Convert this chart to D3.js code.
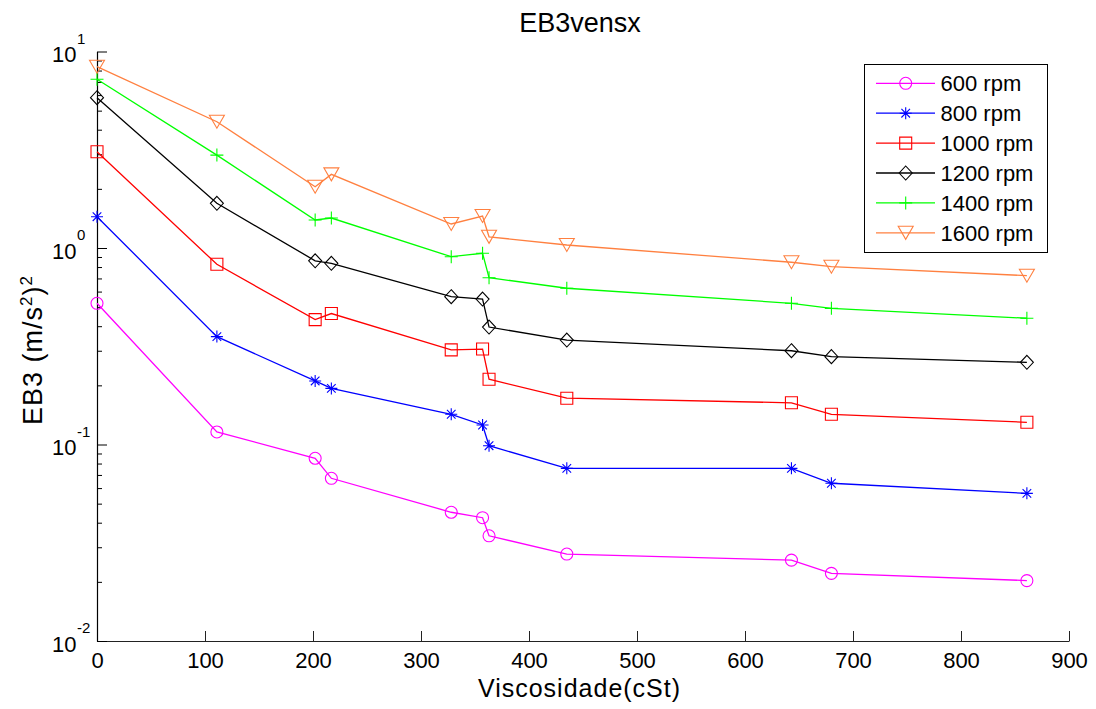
<!DOCTYPE html>
<html>
<head>
<meta charset="utf-8">
<script src="https://cdn.jsdelivr.net/npm/d3@7"></script>
<style>
  html, body { margin: 0; padding: 0; background: #fff; }
  svg { display: block; font-family: "Liberation Sans", Arial, Helvetica, sans-serif; }
</style>
</head>
<body>
<svg id="chart" width="1096" height="709"></svg>
<script>
// ---- data ----
const viscosity = [0, 111, 202, 217, 328, 357, 363, 435, 643, 680, 861];
const rpm600  = [0.523, 0.1158, 0.0851, 0.0673, 0.0452, 0.0424, 0.0343, 0.0277, 0.0258, 0.0221, 0.0203];
const rpm800  = [1.443, 0.354, 0.2106, 0.193, 0.1425, 0.1257, 0.0986, 0.0756, 0.0756, 0.0635, 0.0564];
const rpm1000 = [3.09, 0.826, 0.432, 0.464, 0.303, 0.306, 0.215, 0.172, 0.163, 0.1425, 0.1297];
const rpm1200 = [5.82, 1.689, 0.861, 0.836, 0.565, 0.550, 0.396, 0.340, 0.300, 0.280, 0.262];
const rpm1400 = [7.22, 2.97, 1.388, 1.421, 0.903, 0.940, 0.706, 0.624, 0.523, 0.493, 0.439];
const rpm1600 = [8.37, 4.39, 2.05, 2.37, 1.325, 1.455, 1.14, 1.036, 0.846, 0.803, 0.723];
const seriesNames = ["600 rpm", "800 rpm", "1000 rpm", "1200 rpm", "1400 rpm", "1600 rpm"];
const seriesValues = [rpm600, rpm800, rpm1000, rpm1200, rpm1400, rpm1600];
const xTicks = [0, 100, 200, 300, 400, 500, 600, 700, 800, 900];
const yDecades = [-2, -1, 0, 1];
const titleText = "EB3vensx";
const xLabelText = "Viscosidade(cSt)";

// ---- styles ----
const colors = ["#ff00ff", "#0000ff", "#ff0000", "#000000", "#00ff00", "#ff8040"];
const markers = ["circle", "asterisk", "square", "diamond", "plus", "triangleDown"];

const svg = d3.select("#chart");
const plotLeft = 97, plotRight = 1069, plotTop = 51.5, plotBottom = 641;

const x = d3.scaleLinear().domain([0, 900]).range([plotLeft, plotRight]);
const y = d3.scaleLog().domain([0.01, 10]).range([plotBottom, plotTop]);

function markerPath(type) {
  const p = d3.path();
  switch (type) {
    case "circle": p.arc(0, 0, 6, 0, 2 * Math.PI); break;
    case "square": p.rect(-6, -6, 12, 12); break;
    case "diamond":
      p.moveTo(0, -7); p.lineTo(6.5, 0); p.lineTo(0, 7); p.lineTo(-6.5, 0); p.closePath(); break;
    case "plus":
      p.moveTo(-6.5, 0); p.lineTo(6.5, 0); p.moveTo(0, -6.5); p.lineTo(0, 6.5); break;
    case "asterisk": {
      const a = 6, b = 4.3;
      p.moveTo(-a, 0); p.lineTo(a, 0); p.moveTo(0, -a); p.lineTo(0, a);
      p.moveTo(-b, -b); p.lineTo(b, b); p.moveTo(-b, b); p.lineTo(b, -b); break;
    }
    case "triangleDown":
      p.moveTo(-7.5, -6.5); p.lineTo(7.5, -6.5); p.lineTo(0, 6.5); p.closePath(); break;
  }
  return p.toString();
}

// ---- axes ----
const g = svg.append("g");

// x axis
const xAxis = d3.axisBottom(x).tickValues(xTicks).tickSizeInner(-10).tickSizeOuter(0).tickPadding(0).tickFormat(d3.format("d"));
const gx = g.append("g").attr("transform", `translate(0,${plotBottom})`).call(xAxis);
gx.select(".domain").attr("stroke", "#222").attr("stroke-width", 1.2);
gx.selectAll(".tick line").attr("stroke", "#222");
gx.selectAll(".tick text").attr("font-size", 22).attr("fill", "#000").attr("dy", null).attr("y", 27);

// y axis (log): minor ticks
const minorVals = [];
yDecades.slice(0, -1).forEach(d => { for (let k = 2; k <= 9; k++) minorVals.push(k * Math.pow(10, d)); });
const yMinor = d3.axisLeft(y).tickValues(minorVals).tickSizeInner(-5).tickSizeOuter(0).tickFormat("");
const gyMinor = g.append("g").attr("transform", `translate(${plotLeft},0)`).call(yMinor);
gyMinor.select(".domain").remove();
gyMinor.selectAll(".tick line").attr("stroke", "#000");

const majorVals = yDecades.map(d => Math.pow(10, d));
const yMajor = d3.axisLeft(y).tickValues(majorVals).tickSizeInner(-10).tickSizeOuter(0).tickFormat("");
const gy = g.append("g").attr("transform", `translate(${plotLeft},0)`).call(yMajor);
gy.select(".domain").attr("stroke", "#000").attr("stroke-width", 1.2);
gy.selectAll(".tick line").attr("stroke", "#000");

// y tick labels 10^n
yDecades.forEach(d => {
  const ty = y(Math.pow(10, d));
  const t = g.append("text").attr("x", 52).attr("y", ty + 10.5).attr("font-size", 22).attr("fill", "#000");
  t.append("tspan").text("10");
  t.append("tspan").attr("x", 77).attr("y", ty - 8).attr("font-size", 15).text(String(d));
});

// ---- series ----
const line = d3.line().x(d => x(d[0])).y(d => y(d[1]));
seriesValues.forEach((vals, i) => {
  const pts = viscosity.map((v, j) => [v, vals[j]]);
  g.append("path").datum(pts).attr("d", line)
    .attr("fill", "none").attr("stroke", colors[i]).attr("stroke-width", 1.3);
  g.append("g").selectAll("path").data(pts).join("path")
    .attr("transform", d => `translate(${x(d[0])},${y(d[1])})`)
    .attr("d", markerPath(markers[i]))
    .attr("fill", "none").attr("stroke", colors[i]).attr("stroke-width", 1.1);
});

// ---- legend ----
const lg = g.append("g");
lg.append("rect").attr("x", 864.5).attr("y", 64.5).attr("width", 183).attr("height", 188)
  .attr("fill", "#fff").attr("stroke", "#000").attr("stroke-width", 1);
seriesNames.forEach((name, i) => {
  const cy = 83.3 + i * 29.9;
  lg.append("line").attr("x1", 876).attr("x2", 935).attr("y1", cy).attr("y2", cy)
    .attr("stroke", colors[i]).attr("stroke-width", 1.3);
  lg.append("path").attr("transform", `translate(905.7,${cy})`).attr("d", markerPath(markers[i]))
    .attr("fill", "none").attr("stroke", colors[i]).attr("stroke-width", 1.1);
  lg.append("text").attr("x", 940.5).attr("y", cy + 8).attr("font-size", 22).attr("fill", "#000").text(name);
});

// ---- titles ----
g.append("text").attr("x", (plotLeft + plotRight) / 2 - 3).attr("y", 31.5).attr("text-anchor", "middle")
  .attr("font-size", 27).attr("fill", "#000").text(titleText);
g.append("text").attr("x", 579.5).attr("y", 697).attr("text-anchor", "middle")
  .attr("font-size", 25).attr("letter-spacing", 1).attr("fill", "#000").text(xLabelText);
const yl = g.append("text").attr("transform", "translate(42,350) rotate(-90)").attr("text-anchor", "middle")
  .attr("font-size", 27).attr("letter-spacing", 1).attr("fill", "#000");
yl.append("tspan").text("EB3 (m/s");
yl.append("tspan").attr("font-size", 17).attr("dy", -10).text("2");
yl.append("tspan").attr("dy", 10).text(")");
yl.append("tspan").attr("font-size", 17).attr("dy", -10).text("2");
</script>
</body>
</html>
